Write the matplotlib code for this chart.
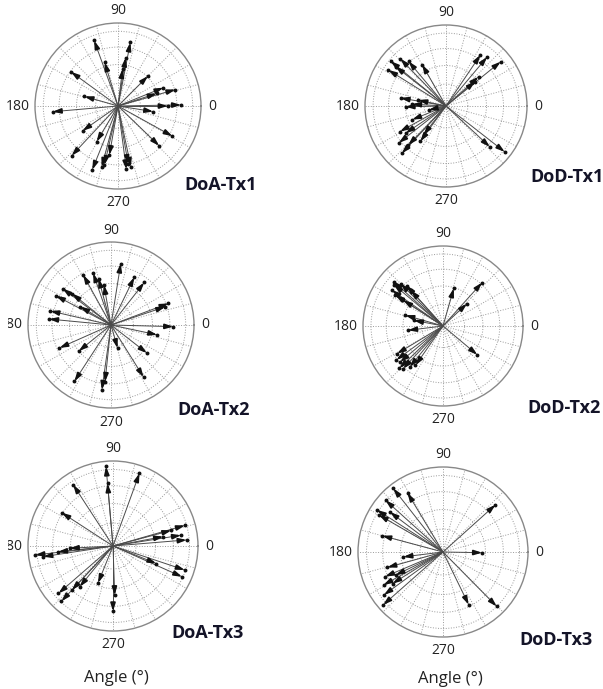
import numpy as np
import matplotlib
matplotlib.use("Agg")
import matplotlib.pyplot as plt
from matplotlib.transforms import Bbox

W, H = 603, 689

# arrow directions (deg) and normalised lengths
doa_tx1_ang = [110, 107, 79, 81, 83, 144, 45, 16, 22, 18, 1, 0, 351, 331, 316,
               282, 277.5, 280, 260, 257, 255, 248, 239, 227, 215, 185, 164]
doa_tx1_len = [0.84, 0.55, 0.78, 0.59, 0.45, 0.70, 0.51, 0.72, 0.59, 0.49, 0.76, 0.60, 0.43, 0.75, 0.69,
               0.75, 0.77, 0.71, 0.60, 0.73, 0.76, 0.83, 0.50, 0.82, 0.52, 0.79, 0.42]

dod_tx1_ang = [141, 148, 142, 130, 120, 134, 56, 50, 39, 40, 42, 170, 181, 168, 193, 177,
               218, 227, 214, 202, 234, 232, 226, 209, 322, 317]
dod_tx1_len = [0.88, 0.84, 0.79, 0.72, 0.59, 0.81, 0.76, 0.79, 0.87, 0.47, 0.54, 0.57, 0.50, 0.35, 0.22, 0.42,
               0.74, 0.80, 0.60, 0.45, 0.54, 0.45, 0.67, 0.65, 0.92, 0.74]

doa_tx2_ang = [81, 119, 109, 105, 100, 64, 52, 143, 152, 141, 167, 174.5, 149, 20.6, 18.6,
               358.5, 348, 322, 302, 286, 262, 264, 237, 204, 219]
doa_tx2_len = [0.75, 0.69, 0.66, 0.58, 0.49, 0.64, 0.65, 0.73, 0.75, 0.60, 0.75, 0.75, 0.43, 0.74, 0.69,
               0.75, 0.57, 0.55, 0.74, 0.29, 0.79, 0.69, 0.81, 0.68, 0.50]

dod_tx2_ang = [138, 145, 135, 132, 147, 147, 132, 140, 164, 187, 169, 74, 48, 43, 320,
               211, 220, 227, 231, 235, 216, 224]
dod_tx2_len = [0.83, 0.78, 0.75, 0.68, 0.71, 0.59, 0.60, 0.80, 0.49, 0.44, 0.37, 0.49, 0.73, 0.41, 0.56,
               0.67, 0.70, 0.73, 0.66, 0.60, 0.72, 0.76]

doa_tx3_ang = [95, 95, 70, 123, 147, 16, 9, 4.7, 15, 10.6, 341.5, 336, 338,
               186.6, 188.7, 183, 186, 221, 227, 227, 230.7, 248, 270, 272]
doa_tx3_len = [0.94, 0.74, 0.91, 0.86, 0.72, 0.88, 0.81, 0.87, 0.71, 0.60, 0.89, 0.89, 0.55,
               0.92, 0.83, 0.51, 0.65, 0.85, 0.89, 0.71, 0.62, 0.47, 0.77, 0.58]

dod_tx3_ang = [128, 121, 138, 147.5, 150, 143, 165, 42, 359, 195.5, 203, 209, 216,
               221.5, 187, 212, 206, 296, 314.6]
dod_tx3_len = [0.95, 0.81, 0.91, 0.92, 0.87, 0.78, 0.74, 0.83, 0.46, 0.68, 0.74, 0.80, 0.86,
               0.94, 0.47, 0.70, 0.62, 0.69, 0.90]

titles = ["DoA-Tx1", "DoD-Tx1", "DoA-Tx2", "DoD-Tx2", "DoA-Tx3", "DoD-Tx3"]
angles = [doa_tx1_ang, dod_tx1_ang, doa_tx2_ang, dod_tx2_ang, doa_tx3_ang, dod_tx3_ang]
lengths = [doa_tx1_len, dod_tx1_len, doa_tx2_len, dod_tx2_len, doa_tx3_len, dod_tx3_len]

# circle centre / radius in pixels, title position
centres = [(118, 106, 83), (446, 106, 81), (111, 325, 83),
           (443, 326, 80), (113, 546, 85), (443, 552, 85)]
title_pos = [(221, 185), (567, 177), (214, 410), (564, 408), (208, 633), (556, 640)]

fig = plt.figure(figsize=(W / 100, H / 100), dpi=100)
fig.patch.set_facecolor("white")


def fx(x):
    return x / W


def fy(y):
    return 1 - y / H


fam = ["Open Sans", "DejaVu Sans"]
lab_font = dict(family=fam, fontsize=10, color="#222222")

for i in range(6):
    cx, cy, r = centres[i]
    ax = fig.add_axes([fx(cx - r), fy(cy + r), 2 * r / W, 2 * r / H], projection="polar")
    ax.set_ylim(0, 1)
    ax.set_thetagrids(np.arange(0, 360, 15), [""] * 24)
    ax.set_rgrids([0.27, 0.5, 0.71, 0.9], [""] * 4)
    ax.grid(True, linestyle=":", color="#9a9a9a", linewidth=0.7)
    ax.spines["polar"].set_color("#888888")
    ax.spines["polar"].set_linewidth(1.0)
    ax.tick_params(length=0, pad=0)

    for a, l in zip(angles[i], lengths[i]):
        t = np.deg2rad(a)
        ax.plot([t, t], [0, l], color="#4a4a4a", lw=0.7, solid_capstyle="butt")
        ax.annotate("", xy=(t, l), xytext=(t, l - 0.1),
                    arrowprops=dict(arrowstyle="-|>,head_length=0.45,head_width=0.14",
                                    color="#111111", lw=1.3, shrinkA=0, shrinkB=0))
        ax.plot([t], [l], "o", ms=1.8, color="#111111")

    # angle labels
    fig.text(fx(cx), fy(cy - r - 12), "90", ha="center", va="center", **lab_font)
    fig.text(fx(cx), fy(cy + r + 14), "270", ha="center", va="center", **lab_font)
    fig.text(fx(cx + r + 11), fy(cy), "0", ha="center", va="center", **lab_font)
    t180 = fig.text(fx(cx - r - 5), fy(cy), "180", ha="right", va="center", **lab_font)
    if cx - r < 30:
        # left edge of the original picture cuts off the "1"
        t180.set_clip_box(Bbox.from_extents(8, 0, W, H))
        t180.set_clip_on(True)

    tx, ty = title_pos[i]
    fig.text(fx(tx), fy(ty), titles[i], ha="center", va="center", fontsize=13,
             fontweight="bold", family=fam, color="#141428")

fig.text(fx(116), fy(678), "Angle (°)", ha="center", va="center", fontsize=12,
         family=fam, color="#222222")
fig.text(fx(450), fy(679), "Angle (°)", ha="center", va="center", fontsize=12,
         family=fam, color="#222222")

fig.savefig("out.png", dpi=100, facecolor="white")
